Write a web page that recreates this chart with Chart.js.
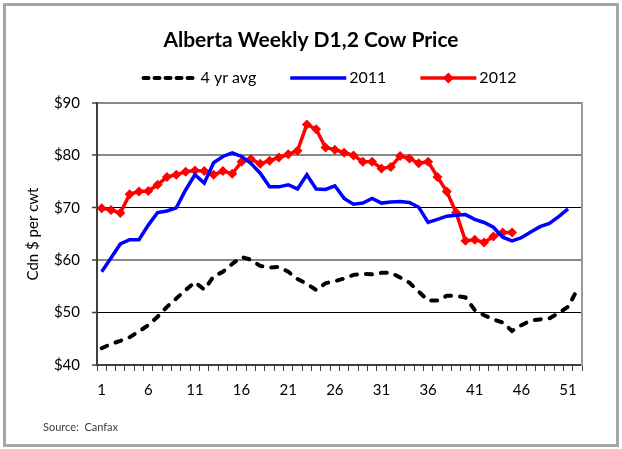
<!DOCTYPE html>
<html><head><meta charset="utf-8">
<script src="https://cdn.jsdelivr.net/npm/chart.js@4"></script>
<style>html,body{margin:0;padding:0;background:#fff;}#wrap{width:622px;height:449px;position:relative;}</style>
</head><body><div id="wrap"><canvas id="c" width="622" height="449"></canvas></div>
<script>
const weeks = ['1','2','3','4','5','6','7','8','9','10','11','12','13','14','15','16','17','18','19','20','21','22','23','24','25','26','27','28','29','30','31','32','33','34','35','36','37','38','39','40','41','42','43','44','45','46','47','48','49','50','51','52'];
const avg4yr = [43.2,44.0,44.6,45.3,46.4,47.6,49.2,51.1,52.7,54.3,55.8,54.4,56.9,57.8,59.3,60.6,60.1,58.9,58.6,58.7,57.8,56.4,55.5,54.3,55.6,56.0,56.5,57.2,57.4,57.3,57.6,57.6,56.7,55.7,54.0,52.3,52.3,53.2,53.2,52.9,50.5,49.5,48.7,48.1,46.5,47.6,48.5,48.7,48.9,49.9,51.1,54.4];
const y2011 = [57.8,60.4,63.1,63.9,63.9,66.7,69.1,69.4,70.0,73.4,76.3,74.7,78.6,79.8,80.5,79.8,78.5,76.6,74.0,74.0,74.4,73.6,76.3,73.6,73.5,74.2,71.8,70.7,70.9,71.8,70.9,71.1,71.2,71.0,70.1,67.2,67.8,68.4,68.6,68.7,67.8,67.2,66.3,64.4,63.7,64.3,65.4,66.4,67.0,68.3,69.8];
const y2012 = [69.9,69.6,69.0,72.6,73.1,73.2,74.4,75.9,76.3,76.9,77.1,77.0,76.3,77.0,76.5,78.8,79.3,78.4,79.0,79.6,80.2,80.9,85.9,85.0,81.5,81.1,80.5,80.0,78.8,78.8,77.5,77.8,79.9,79.4,78.5,78.8,75.9,73.1,69.1,63.7,63.9,63.4,64.5,65.3,65.3];
const seriesNames = ['4 yr avg','2011','2012'];
const titleText = 'Alberta Weekly D1,2 Cow Price';
const yTitle = 'Cdn $ per cwt';
const sourceText = 'Source:  Canfax';
const FONT = 'Lato';

const framePlugin = {
  id: 'frame',
  beforeDraw(chart) {
    const c = chart.ctx;
    c.save();
    c.fillStyle = '#fff';
    c.fillRect(0, 0, chart.width, chart.height);
    c.strokeStyle = '#a6a6a6';
    c.lineWidth = 3;
    c.strokeRect(4.5, 4.5, chart.width - 9, chart.height - 8);
    c.restore();
  },
  afterDraw(chart) {
    const c = chart.ctx;
    c.save();
    c.font = '11px ' + FONT;
    c.fillStyle = '#404040';
    c.textBaseline = 'middle';
    c.fillText(sourceText, 43, 427);
    c.restore();
  }
};

const legendPlugin = {
  id: 'customLegend',
  afterDraw(chart) {
    const c = chart.ctx;
    const ds = chart.data.datasets;
    const sample = 56, textGap = 3, itemGap = 34, y = 78;
    c.save();
    c.font = '16px ' + FONT;
    const widths = ds.map(d => sample + textGap + c.measureText(d.label).width);
    const total = widths.reduce((a, b) => a + b, 0) + itemGap * (ds.length - 1);
    let x = chart.width / 2 + 18 - total / 2;
    ds.forEach((d, i) => {
      c.beginPath();
      c.strokeStyle = d.borderColor;
      c.lineWidth = d.borderWidth;
      if (d.borderDash) { c.setLineDash([5, 6]); c.lineCap = 'round'; } else { c.setLineDash([]); c.lineCap = 'butt'; }
      c.moveTo(x + (d.borderDash ? 2 : 0), y);
      c.lineTo(x + sample, y);
      c.stroke();
      c.setLineDash([]);
      if (d.pointRadius > 0) {
        const cx = x + sample / 2, r = 5.5;
        c.beginPath();
        c.fillStyle = d.backgroundColor;
        c.moveTo(cx, y - r); c.lineTo(cx + r, y); c.lineTo(cx, y + r); c.lineTo(cx - r, y); c.closePath();
        c.fill();
      }
      c.fillStyle = '#000';
      c.textBaseline = 'middle';
      c.textAlign = 'left';
      c.fillText(d.label, x + sample + textGap, y);
      x += widths[i] + itemGap;
    });
    c.restore();
  }
};

new Chart(document.getElementById('c').getContext('2d'), {
  type: 'line',
  data: {
    labels: weeks,
    datasets: [
      { label: seriesNames[0], data: avg4yr, borderColor: '#000000', borderWidth: 4, borderDash: [6, 9], borderCapStyle: 'round', pointRadius: 0, tension: 0 },
      { label: seriesNames[1], data: y2011, borderColor: '#0000ff', borderWidth: 3.5, pointRadius: 0, tension: 0 },
      { label: seriesNames[2], data: y2012, borderColor: '#ff0000', backgroundColor: '#ff0000', borderWidth: 3.5, pointStyle: 'rectRot', pointRadius: 5, pointBorderWidth: 0, pointBackgroundColor: '#ff0000', tension: 0 }
    ]
  },
  options: {
    responsive: false,
    animation: false,
    devicePixelRatio: 1,
    layout: { padding: 0 },
    plugins: {
      legend: { display: false },
      tooltip: { enabled: false },
      title: { display: true, text: titleText, color: '#000', font: { family: FONT, size: 21, weight: 'bold' }, padding: { top: 27.4, bottom: 50.4 } }
    },
    scales: {
      x: {
        offset: true,
        grid: { offset: true, drawOnChartArea: false, tickLength: 6, color: '#404040', lineWidth: 1 },
        border: { color: '#404040', width: 2 },
        ticks: { autoSkip: false, maxRotation: 0, color: '#000', font: { family: FONT, size: 15 }, padding: 10,
          callback: function (v, i) { return i % 5 === 0 ? this.getLabelForValue(v) : ''; } },
        afterFit: s => { s.height = 84; }
      },
      y: {
        min: 40, max: 90,
        ticks: { stepSize: 10, color: '#000', font: { family: FONT, size: 15 }, padding: 12, callback: v => '$' + v },
        grid: {
          color: ctx => (ctx.tick && (ctx.tick.value === 70 || ctx.tick.value === 50)) ? '#000000' : '#888888',
          lineWidth: ctx => (ctx.tick && (ctx.tick.value === 70 || ctx.tick.value === 50)) ? 1 : 2,
          tickLength: 5, tickColor: '#404040', tickWidth: 1.5
        },
        border: { color: '#404040', width: 2 },
        title: { display: true, text: yTitle, color: '#000', font: { family: FONT, size: 15 }, padding: { top: 24, bottom: 0 } },
        afterFit: s => { s.width = 97; }
      },
      y2: {
        position: 'right', min: 40, max: 90,
        ticks: { display: false },
        grid: { display: false },
        border: { display: true, color: '#999999', width: 2 },
        afterFit: s => { s.width = 40; }
      }
    }
  },
  plugins: [framePlugin, legendPlugin]
});
</script></body></html>
